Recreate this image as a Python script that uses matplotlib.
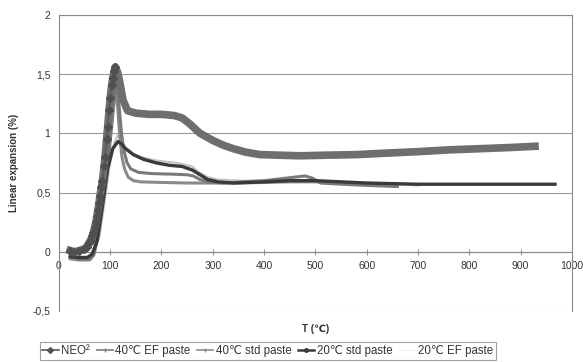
import matplotlib
matplotlib.use('Agg')
from matplotlib import pyplot as plt
from matplotlib.lines import Line2D

plt.rcParams['font.family'] = ['Liberation Sans', 'DejaVu Sans']

# NEO²
t_neo = [22, 30, 40, 48, 54, 58, 62, 65, 67, 70, 72, 74, 76, 78, 80, 83, 85, 88, 90, 93, 95, 98, 100, 103, 105, 108, 110,
         114, 118, 125, 134, 150, 175,
         200, 225, 240, 255, 275, 300, 320, 340, 365, 392, 430, 470, 520, 580, 626, 700, 760, 821, 880, 928]
v_neo = [0.01, 0.0, 0.01, 0.02, 0.04, 0.07, 0.1, 0.13, 0.16, 0.21, 0.25, 0.3, 0.35, 0.41, 0.47, 0.55, 0.6, 0.72, 0.8, 0.95, 1.05, 1.2, 1.3, 1.41, 1.47, 1.53, 1.56,
         1.52, 1.45, 1.28, 1.19, 1.17, 1.16,
         1.16, 1.15, 1.13, 1.08, 1.0, 0.94, 0.9, 0.87, 0.84, 0.82, 0.815, 0.81, 0.815, 0.82, 0.83, 0.845, 0.86, 0.87, 0.88, 0.89]

# 40°C EF paste
t_40ef = [22, 40, 60, 68, 75, 82, 90, 97, 104, 112, 118, 122, 127, 133, 140, 155, 180, 220, 250, 262,
          275, 290, 320, 360, 400, 440, 480, 495, 510, 550, 600, 660]
v_40ef = [-0.05, -0.06, -0.06, -0.02, 0.12, 0.3, 0.55, 0.85, 1.15, 1.45, 1.2, 1.0, 0.85, 0.75, 0.7, 0.67, 0.66, 0.655, 0.65, 0.64,
          0.61, 0.59, 0.58, 0.59, 0.6, 0.62, 0.64, 0.62, 0.58, 0.57, 0.56, 0.55]

# 40°C std paste
t_40std = [22, 40, 60, 68, 75, 82, 90, 97, 104, 110, 115, 119, 123, 128, 135, 145, 160, 200, 250, 300,
           350, 400, 450, 500, 550, 600, 650]
v_40std = [-0.06, -0.07, -0.07, -0.03, 0.1, 0.28, 0.52, 0.8, 1.1, 1.4, 1.2, 0.95, 0.8, 0.7, 0.63, 0.6, 0.59, 0.585, 0.58, 0.58,
           0.58, 0.585, 0.59, 0.59, 0.58, 0.57, 0.56]

# 20°C std paste
t_20std = [22, 40, 55, 65, 75, 85, 95, 105, 115, 122, 130, 145, 165, 190, 215, 240, 260, 275, 290, 310,
           340, 400, 450, 500, 550, 600, 700, 800, 900, 967]
v_20std = [-0.04, -0.05, -0.05, -0.02, 0.1, 0.4, 0.7, 0.87, 0.93, 0.91, 0.87, 0.82, 0.78, 0.75, 0.73, 0.72, 0.69, 0.65, 0.61, 0.59,
           0.58, 0.59, 0.6, 0.6, 0.59, 0.58, 0.57, 0.57, 0.57, 0.57]

# 20°C EF paste
t_20ef = [22, 40, 60, 70, 80, 90, 100, 108, 114, 120, 130, 145, 160, 190, 230, 260, 270, 290, 310, 350,
          400, 450, 500, 550, 600, 650, 700]
v_20ef = [-0.03, -0.04, -0.04, 0.0, 0.15, 0.45, 0.75, 0.92, 0.98, 0.95, 0.88, 0.83, 0.8, 0.77, 0.75, 0.72, 0.68, 0.63, 0.61, 0.6,
          0.6, 0.61, 0.6, 0.59, 0.58, 0.57, 0.56]

x_ticks = [0, 100, 200, 300, 400, 500, 600, 700, 800, 900, 1000]
y_ticks = [-0.5, 0, 0.5, 1, 1.5, 2]
y_labels = ['-0,5', '0', '0,5', '1', '1,5', '2']

fig = plt.figure(figsize=(5.83, 3.62), dpi=100)
ax = fig.add_axes([0.101, 0.141, 0.880, 0.818])

ax.set_xlim(0, 1000)
ax.set_ylim(-0.5, 2)

for y in y_ticks:
    ax.axhline(y, color='#9a9a9a', lw=0.8, zorder=0)

ax.plot(t_20ef, v_20ef, color='#c4c4c4', lw=1.5, zorder=2)
ax.plot(t_40std, v_40std, color='#8a8a8a', lw=2.2, zorder=3)
ax.plot(t_40ef, v_40ef, color='#7a7a7a', lw=2.2, zorder=3)
ax.plot(t_20std, v_20std, color='#3a3a3a', lw=2.4, zorder=4)
# band of the NEO² curve, diamonds visible on the rising side only
ax.plot(t_neo, v_neo, color='#6e6e6e', lw=5.5, solid_joinstyle='round', zorder=5)
ax.plot(t_neo[:27], v_neo[:27], color='#555555', lw=1.0, marker='D', ms=3.6,
        mfc='#505050', mec='#505050', zorder=6)

# Excel style axes: x axis crossing at 0
for s in ['left', 'right', 'top']:
    ax.spines[s].set_color('#8a8a8a')
    ax.spines[s].set_linewidth(0.8)
ax.spines['bottom'].set_position(('data', 0))
ax.spines['bottom'].set_color('#8a8a8a')
ax.spines['bottom'].set_linewidth(0.8)

ax.set_xticks(x_ticks)
ax.set_xticklabels([str(x) for x in x_ticks])
ax.set_yticks(y_ticks)
ax.set_yticklabels(y_labels)
ax.tick_params(axis='x', direction='inout', length=4, width=0.7, color='#8a8a8a',
               labelsize=7.5, labelcolor='#333333', pad=5)
ax.tick_params(axis='y', length=0, labelsize=7.5, labelcolor='#333333', pad=6)

ax.set_ylabel('Linear expansion (%)', fontsize=7, fontweight='bold', color='#333333', labelpad=10)
fig.text(0.542, 0.082, 'T (℃)', fontsize=7, fontweight='bold', color='#333333', ha='center')

handles = [
    Line2D([], [], color='#555555', lw=1.2, marker='D', ms=3),
    Line2D([], [], color='#7a7a7a', lw=1.2, marker='|', ms=3),
    Line2D([], [], color='#8a8a8a', lw=1.2, marker='|', ms=3),
    Line2D([], [], color='#3a3a3a', lw=1.8, marker='o', ms=2.5),
    Line2D([], [], color='#f2f2f2', lw=1.0),
]
labels = ['NEO²', '40℃ EF paste', '40℃ std paste', '20℃ std paste', '20℃ EF paste']
leg = fig.legend(handles, labels, loc='lower center', bbox_to_anchor=(0.459, 0.0), ncol=5,
                 fontsize=8.3, frameon=True, fancybox=False, edgecolor='#8a8a8a',
                 handlelength=1.4, handletextpad=0.2, columnspacing=0.6, borderpad=0.25,
                 borderaxespad=0.2)
leg.get_frame().set_linewidth(0.8)
for txt in leg.get_texts():
    txt.set_color('#333333')

fig.savefig('out.png', dpi=100)
